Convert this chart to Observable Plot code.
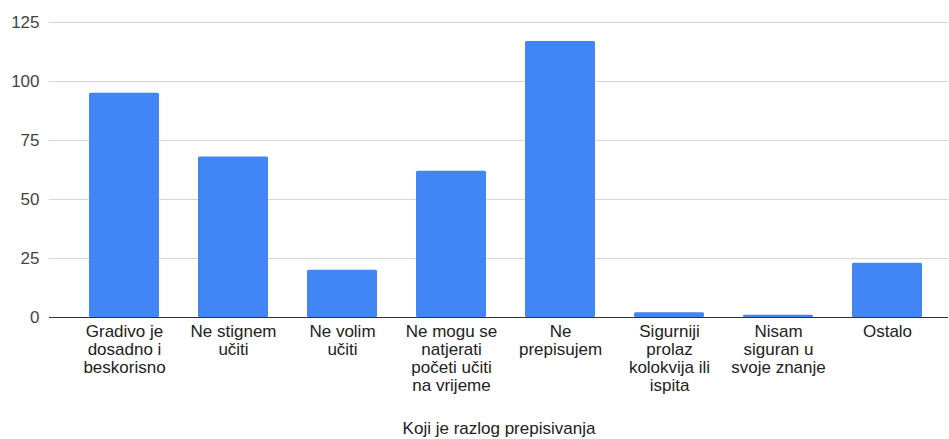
<!DOCTYPE html>
<html>
<head>
<meta charset="utf-8">
<script src="https://cdn.jsdelivr.net/npm/d3@7"></script>
<script src="https://cdn.jsdelivr.net/npm/@observablehq/plot@0.6"></script>
<style>
  html, body { margin: 0; padding: 0; background: #fff; }
  #chart { width: 949px; height: 439px; }
</style>
</head>
<body>
<div id="chart"></div>
<script>
const categories = [
  "Gradivo je\ndosadno i\nbeskorisno",
  "Ne stignem\nučiti",
  "Ne volim\nučiti",
  "Ne mogu se\nnatjerati\npočeti učiti\nna vrijeme",
  "Ne\nprepisujem",
  "Sigurniji\nprolaz\nkolokvija ili\nispita",
  "Nisam\nsiguran u\nsvoje znanje",
  "Ostalo"
];
const values = [95, 68, 20, 62, 117, 2, 1, 23];
const yTicks = [0, 25, 50, 75, 100, 125];
const xTitle = "Koji je razlog prepisivanja";

const data = categories.map((c, i) => ({category: c, value: values[i]}));

const chart = Plot.plot({
  width: 949,
  height: 439,
  marginLeft: 49,
  marginRight: 1,
  marginTop: 22,
  marginBottom: 122,
  style: {fontFamily: "'Liberation Sans', Arial, sans-serif", fontSize: "17px", background: "#fff"},
  x: {domain: categories, paddingInner: 0.36, paddingOuter: 0.18, insetLeft: 18, insetRight: 5, label: null},
  y: {domain: [0, 125], ticks: yTicks, label: null},
  marks: [
    Plot.ruleY(yTicks.filter(d => d > 0), {stroke: "#d6d6d6", strokeWidth: 1}),
    Plot.barY(data, {x: "category", y: "value", fill: "#4285F4", rx: 1.5}),
    Plot.ruleY([0], {stroke: "#333", strokeWidth: 1}),
    Plot.axisY({ticks: yTicks, tickSize: 0, tickPadding: 10, fontSize: 17, fill: "#444", label: null}),
    Plot.axisX({tickSize: 0, tickPadding: 7, fontSize: 17, fill: "#222", lineHeight: 1.06, label: null}),
    Plot.text([xTitle], {frameAnchor: "bottom", dy: 111, text: d => d, fontSize: 17, fill: "#222", lineAnchor: "middle"})
  ]
});
document.getElementById("chart").appendChild(chart);
</script>
</body>
</html>
